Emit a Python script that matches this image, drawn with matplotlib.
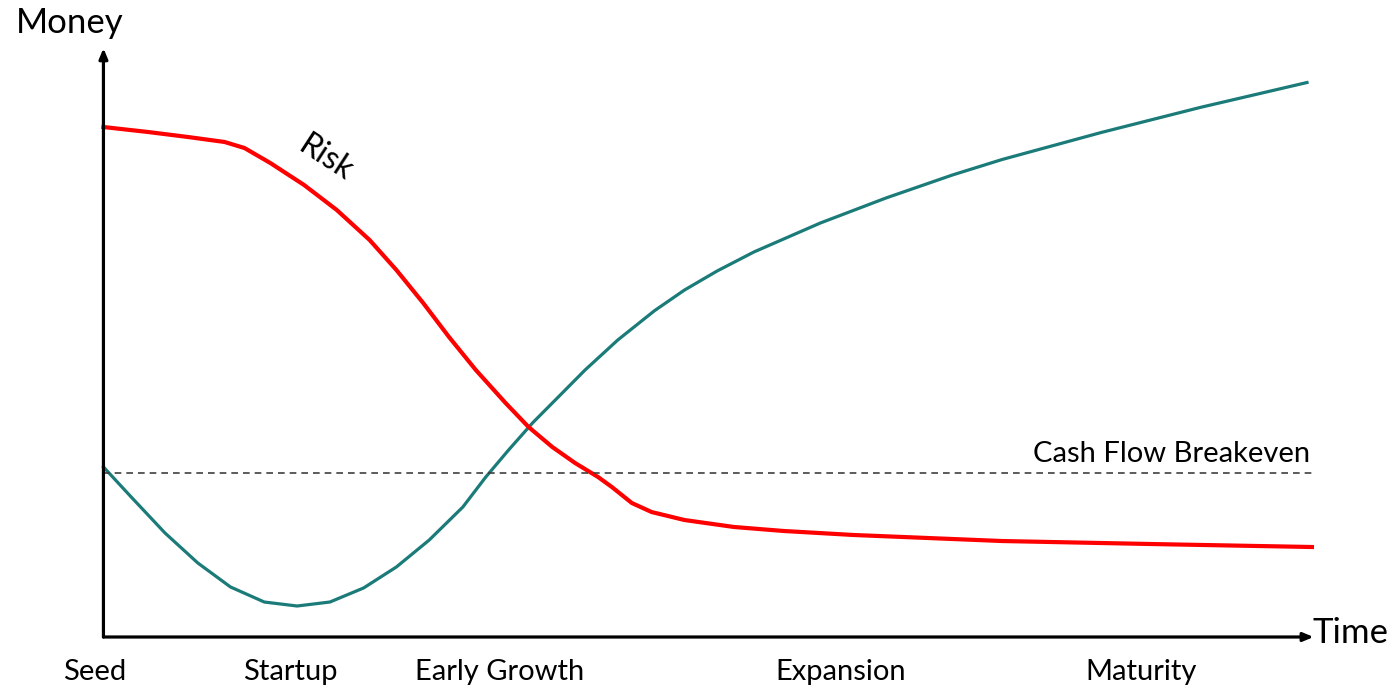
import matplotlib
matplotlib.use("Agg")
import matplotlib.pyplot as plt

plt.rcParams['font.family'] = ['Lato', 'DejaVu Sans']

# values (time 0-100, money 0-100)
cash_time = [0, 2.30, 5.10, 7.82, 10.53, 13.33, 16.05, 18.77, 21.56, 24.28,
             27.00, 29.79, 31.69, 33.58, 35.56, 37.70, 39.92, 42.63, 45.68,
             48.15, 50.86, 53.91, 59.42, 64.86, 70.37, 74.49, 82.72, 90.95, 99.75]
cash_money = [28.96, 23.85, 17.72, 12.61, 8.52, 5.96, 5.28, 5.96, 8.35, 11.93,
              16.52, 22.15, 27.26, 31.86, 36.46, 40.89, 45.49, 50.60, 55.60,
              59.10, 62.35, 65.59, 70.53, 74.79, 78.71, 81.35, 85.96, 90.24, 94.46]

risk_time = [0, 3.70, 7.00, 10.04, 11.69, 13.83, 16.63, 19.34, 22.06, 24.28,
             26.50, 28.64, 30.86, 33.33, 35.23, 37.20, 39.09, 40.99, 42.14,
             43.79, 45.43, 48.15, 52.26, 56.38, 62.14, 74.49, 86.83, 100.16]
risk_money = [86.88, 86.03, 85.18, 84.33, 83.30, 80.75, 77.00, 72.74, 67.63, 62.52,
              56.90, 51.11, 45.49, 39.86, 35.78, 32.37, 29.64, 27.26, 25.55,
              22.83, 21.29, 19.93, 18.74, 18.06, 17.38, 16.35, 15.84, 15.33]

breakeven = 27.9

stage_pos = [-0.7, 15.5, 32.8, 61.1, 86.0]
stage_labels = ['Seed', 'Startup', 'Early Growth', 'Expansion', 'Maturity']

fig = plt.figure(figsize=(13.93, 6.89), dpi=100)
ax = fig.add_axes([95 / 1393, 52 / 689, 1215 / 1393, 587 / 689])
ax.set_xlim(0, 100)
ax.set_ylim(0, 100)
for s in ax.spines.values():
    s.set_visible(False)
ax.set_yticks([])
ax.set_xticks(stage_pos, stage_labels)
ax.tick_params(axis='x', length=0, pad=16, labelsize=21)

ax.plot(cash_time, cash_money, color='#1b7b79', lw=2.3, clip_on=False,
        solid_joinstyle='round')
ax.plot(risk_time, risk_money, color='#ff0000', lw=3, clip_on=False,
        solid_joinstyle='round')
ax.plot([0, 100.2], [breakeven, breakeven], color='#404040', lw=1.2,
        dashes=(4, 3), clip_on=False)

# axis arrows
ax.annotate('', xy=(100.3, 0), xytext=(0, 0), annotation_clip=False,
            arrowprops=dict(arrowstyle='-|>,head_length=0.6,head_width=0.25',
                            lw=2.3, color='black', shrinkA=0, shrinkB=0))
ax.annotate('', xy=(0, 100.3), xytext=(0, 0), annotation_clip=False,
            arrowprops=dict(arrowstyle='-|>,head_length=0.6,head_width=0.25',
                            lw=2.3, color='black', shrinkA=0, shrinkB=0))

ax.text(-2.8, 104.6, 'Money', fontsize=25, ha='center', va='center', clip_on=False)
ax.text(100.2, 0.6, 'Time', fontsize=25, ha='left', va='center', clip_on=False)
ax.text(100, 31.2, 'Cash Flow Breakeven', fontsize=21, ha='right', va='center')
ax.text(18.4, 81.6, 'Risk', fontsize=23, ha='center', va='center', rotation=-33)

fig.savefig('out.png', dpi=100)
